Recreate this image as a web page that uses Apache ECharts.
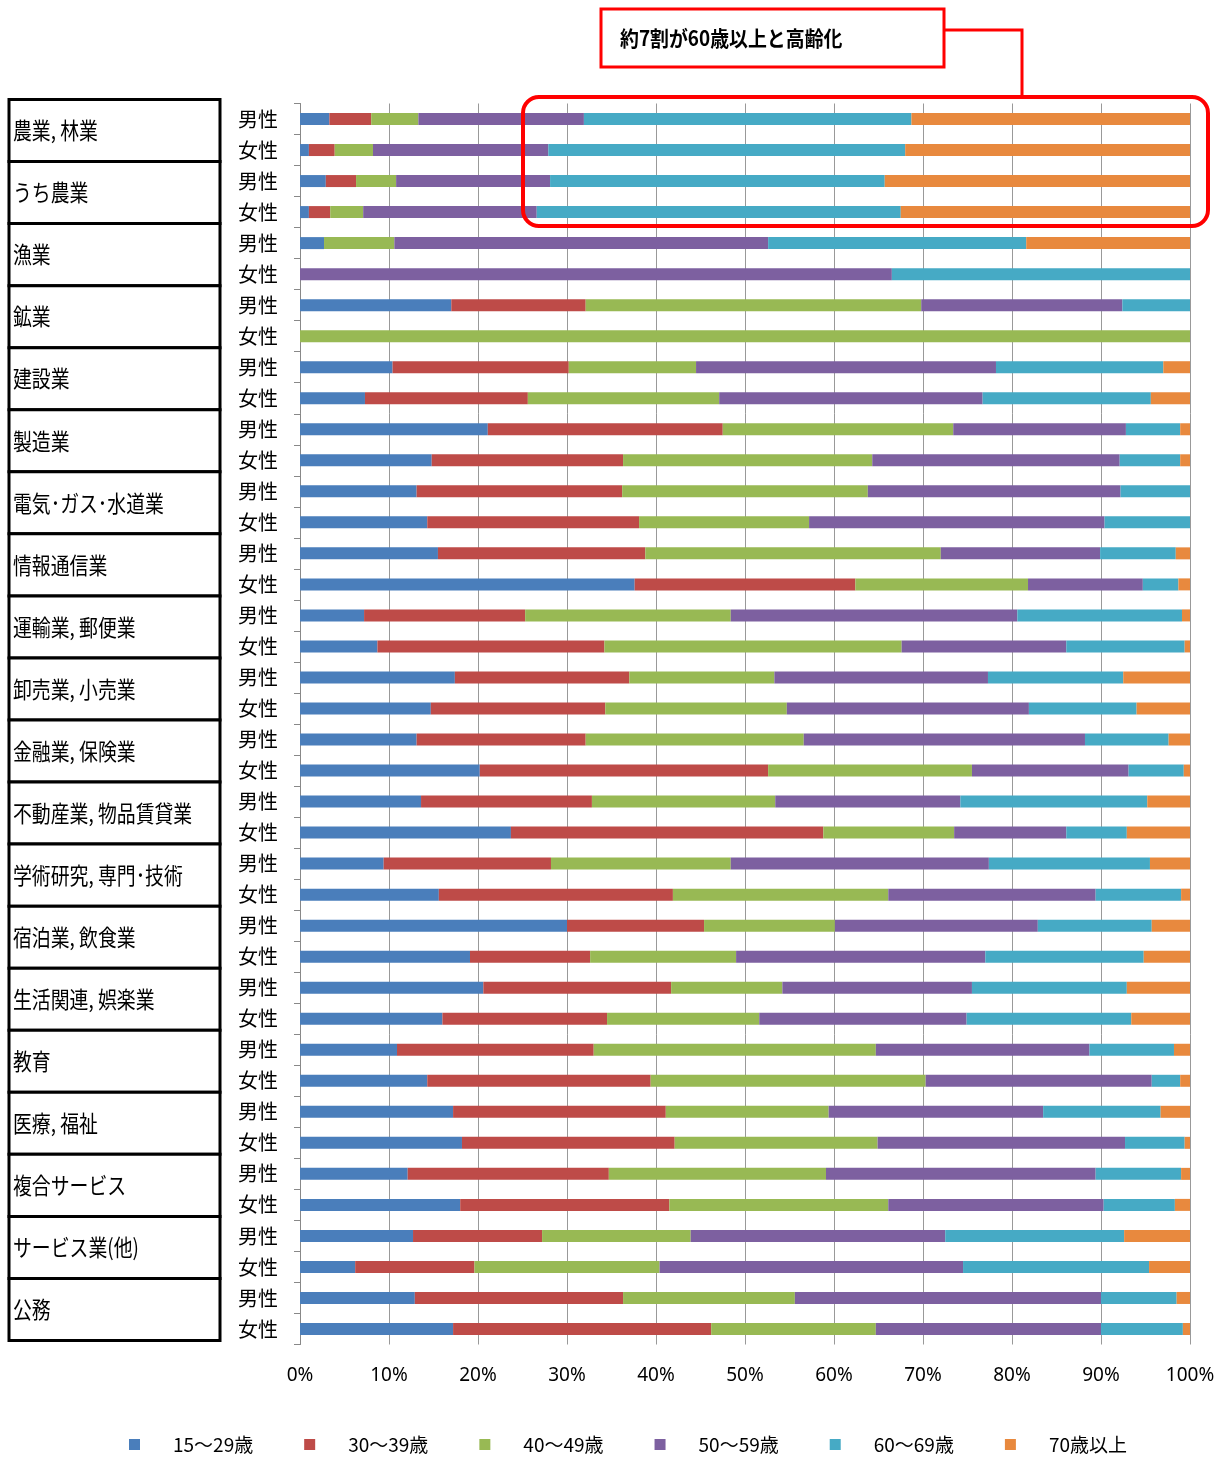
<!DOCTYPE html>
<html>
<head>
<meta charset="utf-8">
<title>年齢構成</title>
<script src="https://cdn.jsdelivr.net/npm/echarts@6/dist/echarts.min.js"></script>
<style>body{margin:0;background:#fff}#main{width:1225px;height:1459px}</style>
</head>
<body>
<div id="main"></div>
<script>
var industries = ['農業, 林業','うち農業','漁業','鉱業','建設業','製造業','電気･ガス･水道業','情報通信業','運輸業, 郵便業','卸売業, 小売業','金融業, 保険業','不動産業, 物品賃貸業','学術研究, 専門･技術','宿泊業, 飲食業','生活関連, 娯楽業','教育','医療, 福祉','複合サービス','サービス業(他)','公務'];
var genders = ['男性','女性'];
var ageNames = ['15～29歳','30～39歳','40～49歳','50～59歳','60～69歳','70歳以上'];
var colors = ['#4a7ebb','#be4b48','#98b954','#7d60a0','#46aac5','#e8893e'];

// rows: 男性/女性 for each industry, values in % per age group
var age15_29 = [3.3,1.0, 2.9,1.0, 2.7,0, 17,0, 10.4,7.3, 21.1,14.8, 13.1,14.3, 15.5,37.6, 7.2,8.7, 17.4,14.7, 13.1,20.2, 13.6,23.7, 9.4,15.6, 30,19.1, 20.6,16, 10.9,14.3, 17.2,18.2, 12.1,18, 12.7,6.2, 12.9,17.2];
var age30_39 = [4.7,2.9, 3.4,2.4, 0,0, 15.1,0, 19.8,18.3, 26.4,21.5, 23.1,23.8, 23.3,24.8, 18.1,25.5, 19.6,19.6, 19,32.4, 19.2,35.1, 18.8,26.3, 15.4,13.5, 21.1,18.5, 22.1,25.1, 23.9,23.9, 22.6,23.5, 14.5,13.4, 23.4,29];
var age40_49 = [5.3,4.3, 4.5,3.7, 7.9,0, 37.7,100, 14.3,21.5, 25.9,28, 27.6,19.1, 33.2,19.4, 23.1,33.4, 16.3,20.4, 24.5,22.9, 20.6,14.7, 20.2,24.2, 14.7,16.4, 12.5,17.1, 31.7,30.9, 18.3,22.8, 24.4,24.6, 16.7,20.8, 19.3,18.5];
var age50_59 = [18.6,19.7, 17.3,19.5, 42,66.5, 22.6,0, 33.7,29.6, 19.4,27.8, 28.4,33.2, 17.9,12.9, 32.2,18.5, 24,27.2, 31.6,17.6, 20.8,12.6, 29,23.3, 22.8,28, 21.3,23.3, 24,25.4, 24.1,27.8, 30.3,24.2, 28.6,34.1, 34.4,25.3];
var age60_69 = [36.8,40.1, 37.6,40.9, 29,33.5, 7.6,0, 18.8,18.9, 6.1,6.8, 7.8,9.6, 8.5,4.0, 18.5,13.3, 15.2,12.1, 9.4,6.2, 21,6.8, 18.1,9.6, 12.8,17.8, 17.4,18.5, 9.5,3.2, 13.2,6.7, 9.6,8, 20.1,20.9, 8.5,9.2];
var age70 = [31.3,32.0, 34.3,32.5, 18.4,0, 0,0, 3.0,4.4, 1.1,1.1, 0,0, 1.6,1.3, 0.9,0.6, 7.5,6.0, 2.4,0.7, 4.8,7.1, 4.5,1.0, 4.3,5.2, 7.1,6.6, 1.8,1.1, 3.3,0.6, 1.0,1.7, 7.4,4.6, 1.5,0.8];
var xTicks = ['0%','10%','20%','30%','40%','50%','60%','70%','80%','90%','100%'];

var seriesData = [age15_29, age30_39, age40_49, age50_59, age60_69, age70];
var rows = [];
industries.forEach(function(n, i){ genders.forEach(function(g){ rows.push(i + '_' + g); }); });

var gTop = 103.5, gBottom = 1344.5;
var boxH = (gBottom - gTop) / industries.length;
var graphics = [];
industries.forEach(function(n, i){
  graphics.push({type:'rect', shape:{x:9, y:gTop - 4 + i*boxH, width:211, height:boxH},
    style:{fill:'#fff', stroke:'#000', lineWidth:3}, z:10});
  graphics.push({type:'text', x:13, y:gTop - 4 + i*boxH + boxH/2, scaleX:0.82,
    style:{text:n, font:'23px "Noto Sans CJK JP"', fill:'#000', verticalAlign:'middle'}, z:11});
});
graphics.push({type:'rect', shape:{x:601, y:9, width:343, height:58}, style:{fill:'#fff', stroke:'#ff0000', lineWidth:3}});
graphics.push({type:'text', x:620, y:38, scaleX:0.9, style:{text:'約7割が60歳以上と高齢化', font:'bold 21px "Noto Sans CJK JP"', fill:'#000', verticalAlign:'middle'}});
graphics.push({type:'polyline', shape:{points:[[944,30],[1022,30],[1022,95]]}, style:{stroke:'#ff0000', lineWidth:3, fill:null}});
graphics.push({type:'rect', shape:{x:523, y:97, width:685, height:129, r:16}, style:{fill:null, stroke:'#ff0000', lineWidth:4}, z:20});

var chart = echarts.init(document.getElementById('main'));
chart.setOption({
  animation:false,
  color: colors,
  grid:{left:300, right:35, top:gTop, bottom:1459 - gBottom},
  xAxis:{type:'value', min:0, max:100, interval:10,
    axisLabel:{formatter:function(v){ return xTicks[v/10]; }, fontSize:19, color:'#000', margin:22, fontFamily:'Noto Sans'},
    axisLine:{show:false}, axisTick:{show:false},
    splitLine:{lineStyle:{color:'#999', width:1}}},
  yAxis:{type:'category', data:rows, inverse:true,
    axisLabel:{formatter:function(v){ return v.split('_')[1]; }, fontSize:20, color:'#000', margin:22, fontFamily:'Noto Sans CJK JP'},
    axisLine:{show:true, lineStyle:{color:'#888'}}, axisTick:{show:true, interval:0, length:6, lineStyle:{color:'#888'}}},
  legend:{bottom:0, left:124, itemWidth:11, itemHeight:11, itemGap:51, icon:'rect',
    textStyle:{fontSize:19, color:'#000', padding:[0,0,0,28], fontFamily:'Noto Sans CJK JP'}, data:ageNames},
  series: ageNames.map(function(n, k){
    return {name:n, type:'bar', stack:'all', barWidth:12, data:seriesData[k]};
  }),
  graphic: graphics
});
</script>
</body>
</html>
